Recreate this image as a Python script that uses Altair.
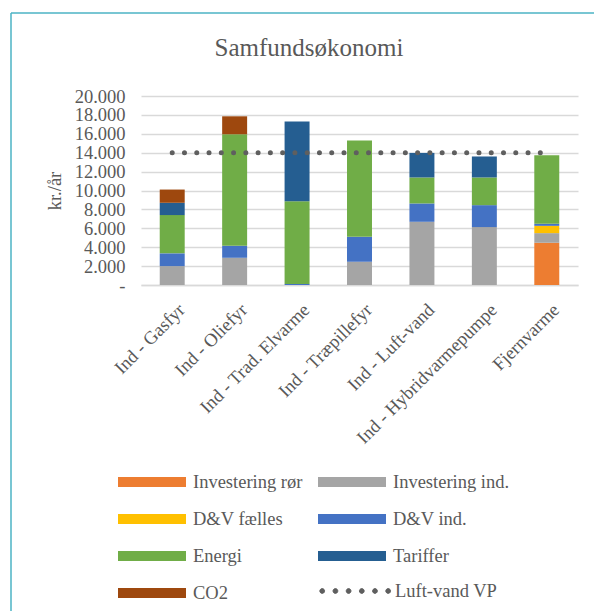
import altair as alt
import pandas as pd

categories = ["Ind - Gasfyr", "Ind - Oliefyr", "Ind - Trad. Elvarme", "Ind - Træpillefyr",
              "Ind - Luft-vand", "Ind - Hybridvarmepumpe", "Fjernvarme"]
series = ["Investering rør", "Investering ind.", "D&V fælles", "D&V ind.", "Energi", "Tariffer", "CO2"]
colors = ["#ED7D31", "#A5A5A5", "#FFC000", "#4472C4", "#70AD47", "#255E91", "#9E480E"]

inv_ror = [0, 0, 0, 0, 0, 0, 4470]
inv_ind = [2000, 2880, 0, 2460, 6690, 6130, 1020]
dv_faelles = [0, 0, 0, 0, 0, 0, 770]
dv_ind = [1350, 1270, 100, 2640, 1940, 2320, 220]
energi = [4050, 11800, 8770, 10200, 2750, 2930, 7250]
tariffer = [1300, 0, 8430, 0, 2600, 2220, 0]
co2 = [1400, 1900, 0, 0, 0, 0, 0]
luft_vand_vp = [14000, 14000, 14000, 14000, 14000, 14000, 14000]
line_name = "Luft-vand VP"
y_ticks = [0, 2000, 4000, 6000, 8000, 10000, 12000, 14000, 16000, 18000, 20000]

FONT = "Liberation Serif"
TXT = "#595959"
FS = 18.5

values = [inv_ror, inv_ind, dv_faelles, dv_ind, energi, tariffer, co2]
rows = []
for si, (s, vals) in enumerate(zip(series, values)):
    for c, v in zip(categories, vals):
        rows.append({"kategori": c, "serie": s, "værdi": v, "orden": si})
df = pd.DataFrame(rows)
df_line = pd.DataFrame({"kategori": categories, "værdi": luft_vand_vp, "serie": line_name})
one = pd.DataFrame({"a": [0]})

x_enc = alt.X("kategori:N", sort=categories, title=None,
              scale=alt.Scale(paddingInner=0.6, paddingOuter=0.3),
              axis=alt.Axis(labelAngle=-45, labelAlign="right", labelBaseline="top",
                            labelPadding=15, labelOffset=3, ticks=False, tickSize=0,
                            domainColor="#d9d9d9", domainWidth=1.3, labelFont=FONT,
                            labelFontSize=FS, labelColor=TXT, labelLimit=400, labelOverlap=False))

bars = alt.Chart(df).mark_bar().encode(
    x=x_enc,
    y=alt.Y("værdi:Q", stack="zero", title="kr./år",
            scale=alt.Scale(domain=[0, 20000], nice=False),
            axis=alt.Axis(values=y_ticks, tickCount=len(y_ticks), domain=False, ticks=False,
                          tickSize=0, labelPadding=16, labelOverlap=False,
                          labelExpr="datum.value == 0 ? '-' : replace(format(datum.value, ',.0f'), ',', '.')",
                          gridColor="#d9d9d9", gridWidth=1.3, labelFont=FONT, labelFontSize=FS,
                          labelColor=TXT, titleFont=FONT, titleFontSize=FS, titleColor=TXT,
                          titleFontWeight="normal", titlePadding=10)),
    color=alt.Color("serie:N", scale=alt.Scale(domain=series, range=colors),
                    legend=alt.Legend(title=None, orient="none", legendX=-23, legendY=376,
                                      direction="horizontal", columns=2,
                                      symbolType="M-1,-0.15H1V0.15H-1Z", symbolSize=4624,
                                      symbolStrokeWidth=0, clipHeight=20, rowPadding=17,
                                      columnPadding=15, labelOffset=7, labelFont=FONT,
                                      labelFontSize=FS, labelColor=TXT, labelLimit=300)),
    order=alt.Order("orden:Q"),
)

dots_path = ("M-0.99,0a0.07,0.07 0 1,0 0.14,0a0.07,0.07 0 1,0 -0.14,0"
             "M-0.602,0a0.07,0.07 0 1,0 0.14,0a0.07,0.07 0 1,0 -0.14,0"
             "M-0.214,0a0.07,0.07 0 1,0 0.14,0a0.07,0.07 0 1,0 -0.14,0"
             "M0.174,0a0.07,0.07 0 1,0 0.14,0a0.07,0.07 0 1,0 -0.14,0"
             "M0.562,0a0.07,0.07 0 1,0 0.14,0a0.07,0.07 0 1,0 -0.14,0"
             "M0.95,0a0.07,0.07 0 1,0 0.14,0a0.07,0.07 0 1,0 -0.14,0")

line = alt.Chart(df_line).mark_line(strokeDash=[0.01, 12.26], strokeCap="round", strokeWidth=5).encode(
    x=alt.X("kategori:N", sort=categories),
    y=alt.Y("værdi:Q"),
    stroke=alt.Stroke("serie:N", scale=alt.Scale(domain=[line_name], range=["#5f5f5f"]),
                      legend=alt.Legend(title=None, orient="none", legendX=178, legendY=485,
                                        symbolType=dots_path, symbolSize=4624, symbolStrokeWidth=1,
                                        symbolFillColor="#5f5f5f", symbolOpacity=1,
                                        symbolDash=[1, 0], clipHeight=20, labelOffset=7,
                                        labelFont=FONT, labelFontSize=FS, labelColor=TXT)),
)

title = alt.Chart(one).mark_text(text="Samfundsøkonomi", font=FONT, fontSize=25, color=TXT,
                                 align="center", baseline="middle").encode(
    x=alt.value(168), y=alt.value(-48))

frame_left = alt.Chart(one).mark_rule(color="#4BB3C4", strokeWidth=1.5).encode(
    x=alt.value(-130), y=alt.value(-83), y2=alt.value(515))
frame_top = alt.Chart(one).mark_rule(color="#4BB3C4", strokeWidth=1.5).encode(
    x=alt.value(-130), x2=alt.value(453), y=alt.value(-83))

chart = alt.layer(frame_left, frame_top, title, bars, line).resolve_scale(color="independent").properties(
    width=437, height=189,
    padding={"left": 10, "top": 12, "right": 0, "bottom": 0},
).configure(background="white").configure_view(stroke=None)

chart.save("out.html", embed_options={"renderer": "svg", "actions": False})
